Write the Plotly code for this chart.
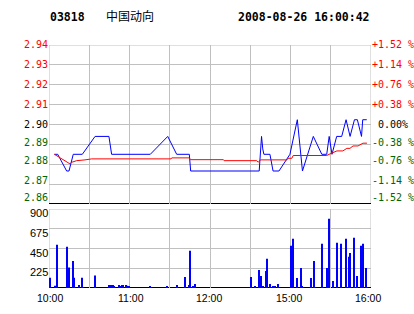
import plotly.graph_objects as go

code = "03818"
name = "中国动向"
stamp = "2008-08-26 16:00:42"

price_times = ["10:04:00", "10:06:30", "10:13:10", "10:14:55", "10:18:05", "10:24:50",
               "10:34:20", "10:44:40", "10:46:40", "11:15:30", "11:28:30", "11:35:10",
               "11:44:35", "11:45:35", "14:36:40", "14:38:25", "14:39:20", "14:40:10",
               "14:44:40", "14:47:00", "14:51:25", "14:59:35", "15:05:05", "15:08:55",
               "15:17:00", "15:23:20", "15:27:00", "15:28:50", "15:30:55", "15:34:25",
               "15:38:10", "15:41:25", "15:44:25", "15:47:40", "15:49:50", "15:52:55",
               "15:53:50", "15:56:50"]
price_values = [2.885, 2.885, 2.8766, 2.8766, 2.885, 2.885,
                2.894, 2.894, 2.885, 2.885, 2.894, 2.885,
                2.885, 2.8766, 2.8766, 2.894, 2.8877, 2.885,
                2.885, 2.8766, 2.8766, 2.885, 2.9024, 2.8766,
                2.894, 2.885, 2.885, 2.894, 2.885, 2.894,
                2.894, 2.9024, 2.894, 2.9024, 2.9024, 2.894,
                2.9024, 2.9024]

avg_times = ["10:04:00", "10:15:35", "10:17:00", "10:20:35", "10:26:50", "10:31:50",
             "11:31:00", "11:31:30", "11:44:35", "11:45:20", "12:10:00", "12:10:30",
             "14:34:50", "14:36:00", "14:37:30", "14:57:25", "14:58:00", "15:01:00",
             "15:02:00", "15:27:00", "15:29:25", "15:31:40", "15:34:35", "15:39:00",
             "15:42:00", "15:44:20", "15:46:35", "15:50:20", "15:54:00", "15:57:00"]
avg_values = [2.885, 2.8802, 2.881, 2.8818, 2.8822, 2.8827,
              2.8827, 2.8832, 2.8832, 2.8823, 2.8823, 2.8818,
              2.8818, 2.881, 2.8822, 2.8822, 2.883, 2.883,
              2.8844, 2.8844, 2.8852, 2.8859, 2.8867, 2.8867,
              2.888, 2.888, 2.8892, 2.8892, 2.8906, 2.8906]

vol_times = ["10:00:45", "10:04:40", "10:06:10", "10:13:40", "10:15:10", "10:18:05",
             "10:18:55", "10:22:35", "10:24:50", "10:34:30", "10:45:00", "10:46:25",
             "10:47:55", "10:48:40", "10:52:25", "10:53:55", "10:54:35", "10:55:25",
             "10:57:35", "10:58:25", "10:59:50", "11:15:30", "11:28:10", "11:35:35",
             "11:41:35", "11:44:35", "11:45:20", "11:47:35", "11:49:05", "14:30:50",
             "14:33:50", "14:36:40", "14:38:10", "14:39:40", "14:42:00", "14:42:40",
             "14:44:55", "14:47:10", "14:48:40", "14:50:55", "15:00:35", "15:02:05",
             "15:05:05", "15:08:00", "15:08:50", "15:15:30", "15:17:40", "15:23:40",
             "15:27:25", "15:28:55", "15:31:55", "15:34:55", "15:37:50", "15:41:35",
             "15:43:50", "15:44:35", "15:47:30", "15:49:50", "15:52:50", "15:53:30",
             "15:54:20", "15:56:30"]
vol_values = [118, 27, 492, 469, 233, 309,
              118, 34, 118, 141, 34, 34,
              34, 23, 34, 23, 34, 34,
              34, 27, 23, 23, 23, 34,
              126, 34, 423, 23, 46, 126,
              23, 206, 137, 23, 195, 332,
              46, 23, 23, 46, 481, 561,
              114, 229, 23, 114, 309, 503,
              229, 789, 80, 515, 503, 561,
              355, 400, 572, 137, 481, 423,
              503, 229]

price_ticks = [2.94, 2.93, 2.92, 2.91, 2.90, 2.89, 2.88, 2.87, 2.86]
price_labels = ["2.94", "2.93", "2.92", "2.91", "2.90", "2.89", "2.88", "2.87", "2.86"]
pct_labels = ["+1.52 %", "+1.14 %", "+0.76 %", "+0.38 %", "\u00a00.00%",
              "-0.38 %", "-0.76 %", "-1.14 %", "-1.52 %"]
vol_ticks = [225, 450, 675, 900]
vol_labels = ["225", "450", "675", "900"]
grid_times = ["10:00", "10:30", "11:00", "11:30", "12:00", "14:30", "15:00", "15:30", "16:00"]
label_times = ["10:00", "11:00", "12:00", "15:00", "16:00"]
prev_close = 2.90

W, H = 414, 314
RED, GREEN, BLACK, GRID = "#ff0000", "#006600", "#000000", "#c0c0c0"
# small pixel nudges for the label rows (style only)
price_label_shift = [0, 0, 0, 0.5, 0, 2, 3.5, 4, 6.5]
time_label_shift = [1, 1, -1, -2, -3.5]


def tmin(s):
    p = [int(v) for v in s.split(":")]
    t = p[0] * 60 + p[1] + (p[2] / 60 if len(p) > 2 else 0)
    if t <= 12 * 60 + 30:
        return t - 600
    return t - (14 * 60 + 30) + 150


def py(p):
    return 1 - p / H


fig = go.Figure()
fig.add_trace(go.Bar(x=[tmin(t) for t in vol_times], y=vol_values, width=0.75,
                     marker=dict(color="#0000ff", line=dict(width=0)),
                     xaxis="x2", yaxis="y2"))
fig.add_trace(go.Scatter(x=[tmin(t) for t in price_times], y=price_values, mode="lines",
                         line=dict(color="#0000ff", width=1), xaxis="x", yaxis="y"))
fig.add_trace(go.Scatter(x=[tmin(t) for t in avg_times], y=avg_values, mode="lines",
                         line=dict(color="#ff0000", width=1), xaxis="x", yaxis="y"))

xgrid = [tmin(t) for t in grid_times]
xdom = [49 / W, 371 / W]

fig.update_layout(
    width=W, height=H, margin=dict(l=0, r=0, t=0, b=0),
    paper_bgcolor="white", plot_bgcolor="white", showlegend=False,
    xaxis=dict(domain=xdom, range=[0, 240], tickvals=xgrid, showticklabels=False,
               gridcolor=GRID, gridwidth=1, zeroline=False, showline=False, ticks="",
               anchor="y"),
    yaxis=dict(domain=[py(204), py(45)], range=[2.86, 2.94], tickvals=price_ticks,
               showticklabels=False, gridcolor=GRID, gridwidth=1, zeroline=False,
               showline=False, ticks="", anchor="x"),
    xaxis2=dict(domain=xdom, range=[0, 240], tickvals=xgrid, showticklabels=False,
                gridcolor=GRID, gridwidth=1, zeroline=False,
                showline=False, ticks="", anchor="y2"),
    yaxis2=dict(domain=[py(288), py(209)], range=[0, 900], tickvals=vol_ticks,
                showticklabels=False, gridcolor=GRID, gridwidth=1, zeroline=False,
                showline=False, ticks="", anchor="x2"),
)

shapes = [
    dict(type="rect", xref="x", yref="y", x0=0, x1=240, y0=2.86, y1=2.94,
         line=dict(color=GRID, width=1), layer="below"),
    dict(type="rect", xref="x2", yref="y2", x0=0, x1=240, y0=0, y1=900,
         line=dict(color=GRID, width=1), layer="below"),
    dict(type="line", xref="x", yref="y", x0=0, x1=240, y0=prev_close, y1=prev_close,
         line=dict(color=BLACK, width=1), layer="below"),
    dict(type="line", xref="x", yref="y", x0=0, x1=240, y0=2.86, y1=2.86,
         line=dict(color=BLACK, width=2), layer="below"),
    dict(type="line", xref="x2", yref="y2", x0=0, x1=240, y0=0, y1=0,
         line=dict(color=BLACK, width=2), layer="below"),
]
fig.update_layout(shapes=shapes)

mono = "DejaVu Sans Mono"
sans = "Liberation Sans"
ann = []
for v, lab, pct, sh in zip(price_ticks, price_labels, pct_labels, price_label_shift):
    col = RED if v > prev_close + 1e-9 else (BLACK if abs(v - prev_close) < 1e-9 else GREEN)
    ann.append(dict(x=47.5 / W, xref="paper", y=v, yref="y", yshift=sh, text=lab,
                    showarrow=False, xanchor="right", yanchor="middle",
                    font=dict(family=mono, size=10, color=col), borderpad=0, borderwidth=0))
    ann.append(dict(x=371.5 / W, xref="paper", y=v, yref="y", yshift=sh, text=pct,
                    showarrow=False, xanchor="left", yanchor="middle",
                    font=dict(family=mono, size=10, color=col), borderpad=0, borderwidth=0))

for v, lab in zip(vol_ticks, vol_labels):
    ann.append(dict(x=47.5 / W, xref="paper", y=v, yref="y2", yshift=-4, text=lab,
                    showarrow=False, xanchor="right", yanchor="middle",
                    font=dict(family=sans, size=11, color=BLACK), borderpad=0, borderwidth=0))

for t, sh in zip(label_times, time_label_shift):
    ann.append(dict(x=tmin(t), xref="x2", y=py(298), yref="paper", xshift=sh, text=t,
                    showarrow=False, xanchor="center", yanchor="middle",
                    font=dict(family=sans, size=10.5, color=BLACK), borderpad=0, borderwidth=0))

ann.append(dict(x=50 / W, y=py(16.7), xref="paper", yref="paper", text="<b>" + code + "</b>",
                showarrow=False, xanchor="left", yanchor="middle",
                font=dict(family=mono, size=11.5, color=BLACK), borderpad=0, borderwidth=0))
ann.append(dict(x=106 / W, y=py(15.5), xref="paper", yref="paper", text=name,
                showarrow=False, xanchor="left", yanchor="middle",
                font=dict(family="Noto Sans CJK SC", size=12, color=BLACK), borderpad=0, borderwidth=0))
ann.append(dict(x=238 / W, y=py(16.7), xref="paper", yref="paper", text="<b>" + stamp + "</b>",
                showarrow=False, xanchor="left", yanchor="middle",
                font=dict(family=mono, size=11.5, color=BLACK), borderpad=0, borderwidth=0))
fig.update_layout(annotations=ann)

fig.write_html("out.html")
